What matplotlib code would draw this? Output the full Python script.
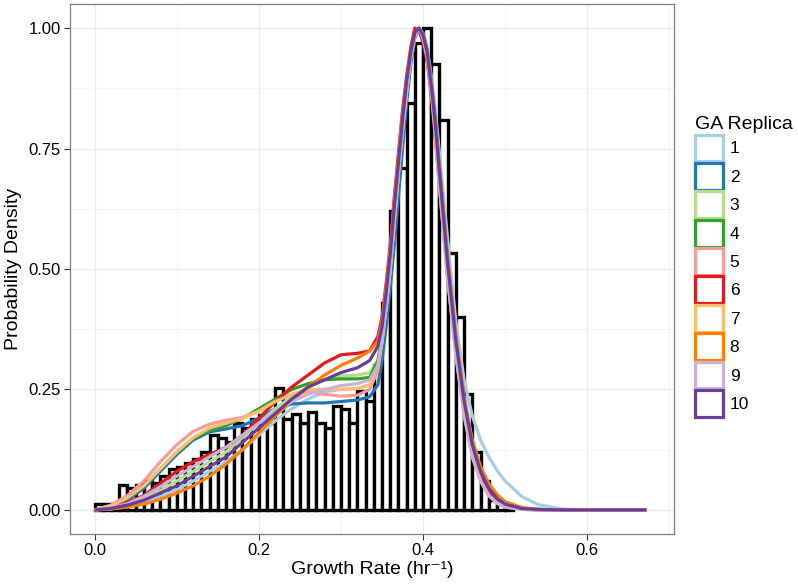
import numpy as np
import matplotlib
matplotlib.use("Agg")
import matplotlib.pyplot as plt
from matplotlib.patches import Patch

plt.rcParams['font.family'] = ['Liberation Sans', 'DejaVu Sans']

# histogram (binwidth 0.01, scaled so the tallest bin = 1)
bin_width = 0.01
hist_height = [0.012, 0.012, 0.012, 0.052, 0.045, 0.052, 0.060, 0.055, 0.070, 0.085,
               0.090, 0.097, 0.105, 0.120, 0.155, 0.150, 0.140, 0.180, 0.170, 0.188,
               0.198, 0.180, 0.254, 0.188, 0.200, 0.180, 0.204, 0.180, 0.170, 0.215,
               0.210, 0.180, 0.246, 0.227, 0.300, 0.430, 0.620, 0.710, 0.845, 0.970,
               1.000, 0.925, 0.810, 0.533, 0.400, 0.240, 0.120, 0.060, 0.020, 0.012,
               0.006]
bin_left = np.arange(len(hist_height)) * bin_width

# scaled density of each GA replica, sampled on a common grid
x_grid = [0.00, 0.02, 0.04, 0.06, 0.08, 0.10, 0.12, 0.14, 0.16, 0.18, 0.20, 0.22,
          0.24, 0.26, 0.28, 0.30, 0.32, 0.335, 0.345, 0.35, 0.355, 0.36, 0.365,
          0.37, 0.375, 0.38, 0.385, 0.39, 0.395, 0.40, 0.405, 0.41, 0.415, 0.42,
          0.43, 0.44, 0.45, 0.46, 0.47, 0.48, 0.49, 0.50, 0.52, 0.54, 0.57, 0.60,
          0.672]

rep1 = [0.0, 0.002, 0.008, 0.016, 0.028, 0.042, 0.06, 0.08, 0.10, 0.125, 0.155, 0.185,
        0.21, 0.23, 0.245, 0.25, 0.252, 0.26, 0.29,
        0.34, 0.41, 0.48, 0.57, 0.67, 0.77, 0.86, 0.93, 0.98, 1.0, 0.99, 0.96, 0.90,
        0.83, 0.74, 0.56, 0.39, 0.27, 0.195, 0.145, 0.11, 0.082, 0.06, 0.028, 0.011,
        0.002, 0.0, 0.0]
rep2 = [0.0, 0.006, 0.02, 0.045, 0.08, 0.115, 0.145, 0.162, 0.168, 0.175, 0.19, 0.21,
        0.22, 0.222, 0.222, 0.225, 0.228, 0.235, 0.26,
        0.31, 0.38, 0.46, 0.55, 0.65, 0.75, 0.845, 0.925, 0.98, 1.0, 0.99, 0.955, 0.89,
        0.81, 0.71, 0.52, 0.355, 0.23, 0.14, 0.08, 0.045, 0.023, 0.011, 0.003, 0.001,
        0.0, 0.0, 0.0]
rep3 = [0.0, 0.003, 0.01, 0.022, 0.04, 0.06, 0.08, 0.10, 0.12, 0.15, 0.18, 0.21,
        0.235, 0.255, 0.27, 0.278, 0.28, 0.285, 0.31,
        0.36, 0.42, 0.50, 0.60, 0.70, 0.79, 0.87, 0.94, 0.985, 1.0, 0.985, 0.95, 0.88,
        0.79, 0.69, 0.50, 0.34, 0.215, 0.125, 0.07, 0.038, 0.019, 0.009, 0.002, 0.0,
        0.0, 0.0, 0.0]
rep4 = [0.0, 0.008, 0.025, 0.05, 0.085, 0.12, 0.148, 0.165, 0.175, 0.19, 0.21, 0.23,
        0.25, 0.262, 0.27, 0.272, 0.272, 0.275, 0.31,
        0.36, 0.43, 0.50, 0.60, 0.70, 0.79, 0.87, 0.94, 0.985, 1.0, 0.985, 0.95, 0.88,
        0.79, 0.69, 0.50, 0.34, 0.22, 0.13, 0.075, 0.04, 0.02, 0.01, 0.003, 0.001,
        0.0, 0.0, 0.0]
rep5 = [0.0, 0.01, 0.03, 0.06, 0.10, 0.135, 0.163, 0.178, 0.186, 0.192, 0.205, 0.225,
        0.24, 0.245, 0.24, 0.236, 0.238, 0.25, 0.29,
        0.35, 0.42, 0.50, 0.60, 0.70, 0.79, 0.87, 0.94, 0.985, 1.0, 0.985, 0.95, 0.88,
        0.79, 0.69, 0.50, 0.34, 0.215, 0.125, 0.07, 0.038, 0.019, 0.009, 0.002, 0.0,
        0.0, 0.0, 0.0]
rep6 = [0.0, 0.004, 0.015, 0.03, 0.055, 0.08, 0.10, 0.115, 0.13, 0.155, 0.19, 0.225,
        0.255, 0.28, 0.305, 0.322, 0.325, 0.33, 0.36,
        0.40, 0.47, 0.55, 0.65, 0.74, 0.83, 0.90, 0.96, 1.0, 0.995, 0.97, 0.93, 0.86,
        0.77, 0.67, 0.48, 0.33, 0.21, 0.125, 0.07, 0.038, 0.019, 0.009, 0.002, 0.0,
        0.0, 0.0, 0.0]
rep7 = [0.0, 0.008, 0.025, 0.05, 0.085, 0.12, 0.15, 0.17, 0.18, 0.19, 0.205, 0.225,
        0.24, 0.25, 0.25, 0.25, 0.252, 0.26, 0.30,
        0.35, 0.42, 0.50, 0.60, 0.70, 0.79, 0.87, 0.94, 0.985, 1.0, 0.98, 0.94, 0.87,
        0.78, 0.67, 0.48, 0.32, 0.195, 0.11, 0.06, 0.03, 0.014, 0.006, 0.001, 0.0,
        0.0, 0.0, 0.0]
rep8 = [0.0, 0.002, 0.006, 0.012, 0.022, 0.035, 0.05, 0.07, 0.095, 0.125, 0.16, 0.195,
        0.225, 0.255, 0.28, 0.30, 0.315, 0.33, 0.35,
        0.39, 0.46, 0.54, 0.64, 0.73, 0.82, 0.89, 0.95, 0.99, 1.0, 0.98, 0.945, 0.88,
        0.80, 0.71, 0.52, 0.36, 0.235, 0.145, 0.09, 0.055, 0.032, 0.017, 0.005, 0.001,
        0.0, 0.0, 0.0]
rep9 = [0.0, 0.004, 0.013, 0.028, 0.048, 0.07, 0.09, 0.11, 0.13, 0.155, 0.18, 0.205,
        0.225, 0.24, 0.25, 0.258, 0.262, 0.27, 0.30,
        0.35, 0.42, 0.50, 0.60, 0.70, 0.79, 0.87, 0.94, 0.985, 1.0, 0.98, 0.94, 0.87,
        0.78, 0.67, 0.48, 0.32, 0.20, 0.11, 0.06, 0.03, 0.014, 0.006, 0.001, 0.0,
        0.0, 0.0, 0.0]
rep10 = [0.0, 0.003, 0.01, 0.02, 0.035, 0.05, 0.07, 0.09, 0.11, 0.14, 0.17, 0.20,
         0.23, 0.255, 0.27, 0.285, 0.295, 0.31, 0.34,
         0.38, 0.45, 0.53, 0.63, 0.72, 0.81, 0.89, 0.95, 0.99, 1.0, 0.985, 0.95, 0.88,
         0.80, 0.70, 0.51, 0.35, 0.225, 0.135, 0.08, 0.045, 0.024, 0.012, 0.003, 0.001,
         0.0, 0.0, 0.0]

replicas = [rep1, rep2, rep3, rep4, rep5, rep6, rep7, rep8, rep9, rep10]
replica_labels = [str(i) for i in range(1, 11)]
colors = ['#A6CEE3', '#1F78B4', '#B2DF8A', '#33A02C', '#FB9A99',
          '#E31A1C', '#FDBF6F', '#FF7F00', '#CAB2D6', '#6A3D9A']

W, H = 798, 585
fig = plt.figure(figsize=(W / 100, H / 100), dpi=100)
# panel placed in pixel terms
left, right, top, bottom = 70, 674, 4, 534
ax = fig.add_axes([left / W, 1 - bottom / H, (right - left) / W, (bottom - top) / H])

ax.bar(bin_left, hist_height, width=bin_width, align='edge',
       color='white', edgecolor='black', linewidth=2.4, zorder=2)

for ys, c in zip(replicas, colors):
    ax.plot(x_grid, ys, color=c, lw=2.3, solid_capstyle='butt', zorder=3)

ax.set_xlim(-0.03, 0.7056)
ax.set_ylim(-0.05, 1.05)

ax.set_xticks([0.0, 0.2, 0.4, 0.6])
ax.set_xticklabels(['0.0', '0.2', '0.4', '0.6'])
ax.set_yticks([0.0, 0.25, 0.5, 0.75, 1.0])
ax.set_yticklabels(['0.00', '0.25', '0.50', '0.75', '1.00'])
ax.set_xticks([0.1, 0.3, 0.5, 0.7], minor=True)
ax.set_yticks([0.125, 0.375, 0.625, 0.875], minor=True)

ax.grid(True, which='major', color='#EBEBEB', lw=1.0, zorder=0)
ax.grid(True, which='minor', color='#F2F2F2', lw=0.6, zorder=0)
ax.set_axisbelow(True)

ax.tick_params(which='major', length=4, width=0.8, color='#333333',
               labelsize=12, labelcolor='black', pad=2.5)
ax.tick_params(which='minor', length=0)
for s in ax.spines.values():
    s.set_color('#7F7F7F')
    s.set_linewidth(0.9)

ax.set_xlabel('Growth Rate (hr\u207b\u00b9)', fontsize=14, labelpad=2)
ax.set_ylabel('Probability Density', fontsize=14, labelpad=5)

# legend keys: open squares outlined in the replica colour
handles = [Patch(facecolor='white', edgecolor=c, linewidth=2.3) for c in colors]
leg = fig.legend(handles, replica_labels, title='GA Replica',
                 loc='upper left', bbox_to_anchor=(695 / W, 1 - 116 / H),
                 frameon=False, fontsize=12.5, title_fontsize=14,
                 handlelength=1.6, handleheight=2.0, labelspacing=0.09,
                 handletextpad=0.4, borderpad=0, borderaxespad=0,
                 alignment='left')

fig.savefig('out.png', dpi=100)
